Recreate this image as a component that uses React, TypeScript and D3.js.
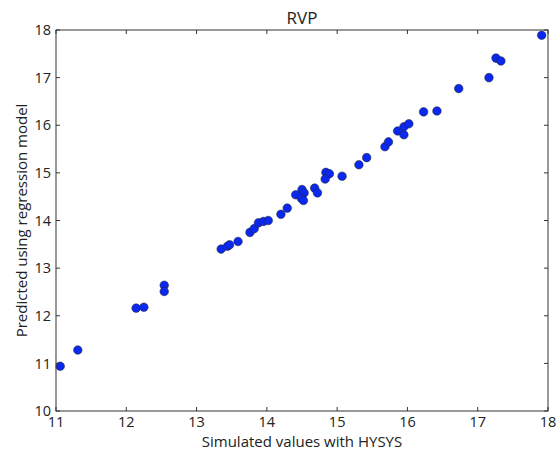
import React from "react";
import * as d3 from "d3";

const simulated = [
  11.06, 11.31, 12.14, 12.25, 12.54, 12.54, 13.35, 13.44, 13.47, 13.59,
  13.76, 13.82, 13.88, 13.95, 14.02, 14.2, 14.29, 14.41, 14.5, 14.53,
  14.49, 14.52, 14.68, 14.72, 14.84, 14.89, 14.83, 15.07, 15.31, 15.42,
  15.68, 15.73, 15.86, 15.95, 16.02, 15.95, 16.23, 16.42, 16.73, 17.16,
  17.26, 17.33, 17.91,
];
const predicted = [
  10.94, 11.28, 12.16, 12.18, 12.64, 12.51, 13.4, 13.46, 13.49, 13.56,
  13.75, 13.83, 13.95, 13.98, 14.0, 14.13, 14.26, 14.54, 14.65, 14.58,
  14.47, 14.42, 14.68, 14.58, 15.01, 14.98, 14.87, 14.93, 15.17, 15.32,
  15.55, 15.65, 15.88, 15.97, 16.03, 15.8, 16.28, 16.3, 16.77, 17.0,
  17.41, 17.35, 17.89,
];
const xTicks = [11, 12, 13, 14, 15, 16, 17, 18];
const yTicks = [10, 11, 12, 13, 14, 15, 16, 17, 18];

const W = 560, H = 450;
const L = 56, R = 548, T = 30, B = 411;
const font = "'Open Sans', sans-serif";

export default function App() {
  const x = d3.scaleLinear().domain([11, 18]).range([L, R]);
  const y = d3.scaleLinear().domain([10, 18]).range([B, T]);
  const tl = 4;
  return (
    <svg width={W} height={H} style={{ position: "absolute", left: 0, top: 0 }}>
      <rect x={0} y={0} width={W} height={H} fill="white" />
      {simulated.map((v, i) => (
        <circle key={i} cx={x(v)} cy={y(predicted[i])} r={4.3} fill="#0a28f0" stroke="#222" strokeWidth={0.5} />
      ))}
      <rect x={L} y={T} width={R - L} height={B - T} fill="none" stroke="#333" strokeWidth={1} />
      {xTicks.map((t) => (
        <g key={"x" + t}>
          <line x1={x(t)} x2={x(t)} y1={B} y2={B - tl} stroke="#333" />
          <line x1={x(t)} x2={x(t)} y1={T} y2={T + tl} stroke="#333" />
          <text x={x(t)} y={427} textAnchor="middle" fontFamily={font} fontSize={14.5} fill="#222">{t}</text>
        </g>
      ))}
      {yTicks.map((t) => (
        <g key={"y" + t}>
          <line x1={L} x2={L + tl} y1={y(t)} y2={y(t)} stroke="#333" />
          <line x1={R} x2={R - tl} y1={y(t)} y2={y(t)} stroke="#333" />
          <text x={51} y={y(t)} dy="0.36em" textAnchor="end" fontFamily={font} fontSize={14.5} fill="#222">{t}</text>
        </g>
      ))}
      <text x={(L + R) / 2} y={24} textAnchor="middle" fontFamily={font} fontSize={17} fill="#222">RVP</text>
      <text x={(L + R) / 2} y={446.5} textAnchor="middle" fontFamily={font} fontSize={15} fill="#222">Simulated values with HYSYS</text>
      <text transform={`translate(27,${(T + B) / 2}) rotate(-90)`} textAnchor="middle" fontFamily={font} fontSize={15} fill="#222">Predicted using regression model</text>
    </svg>
  );
}
